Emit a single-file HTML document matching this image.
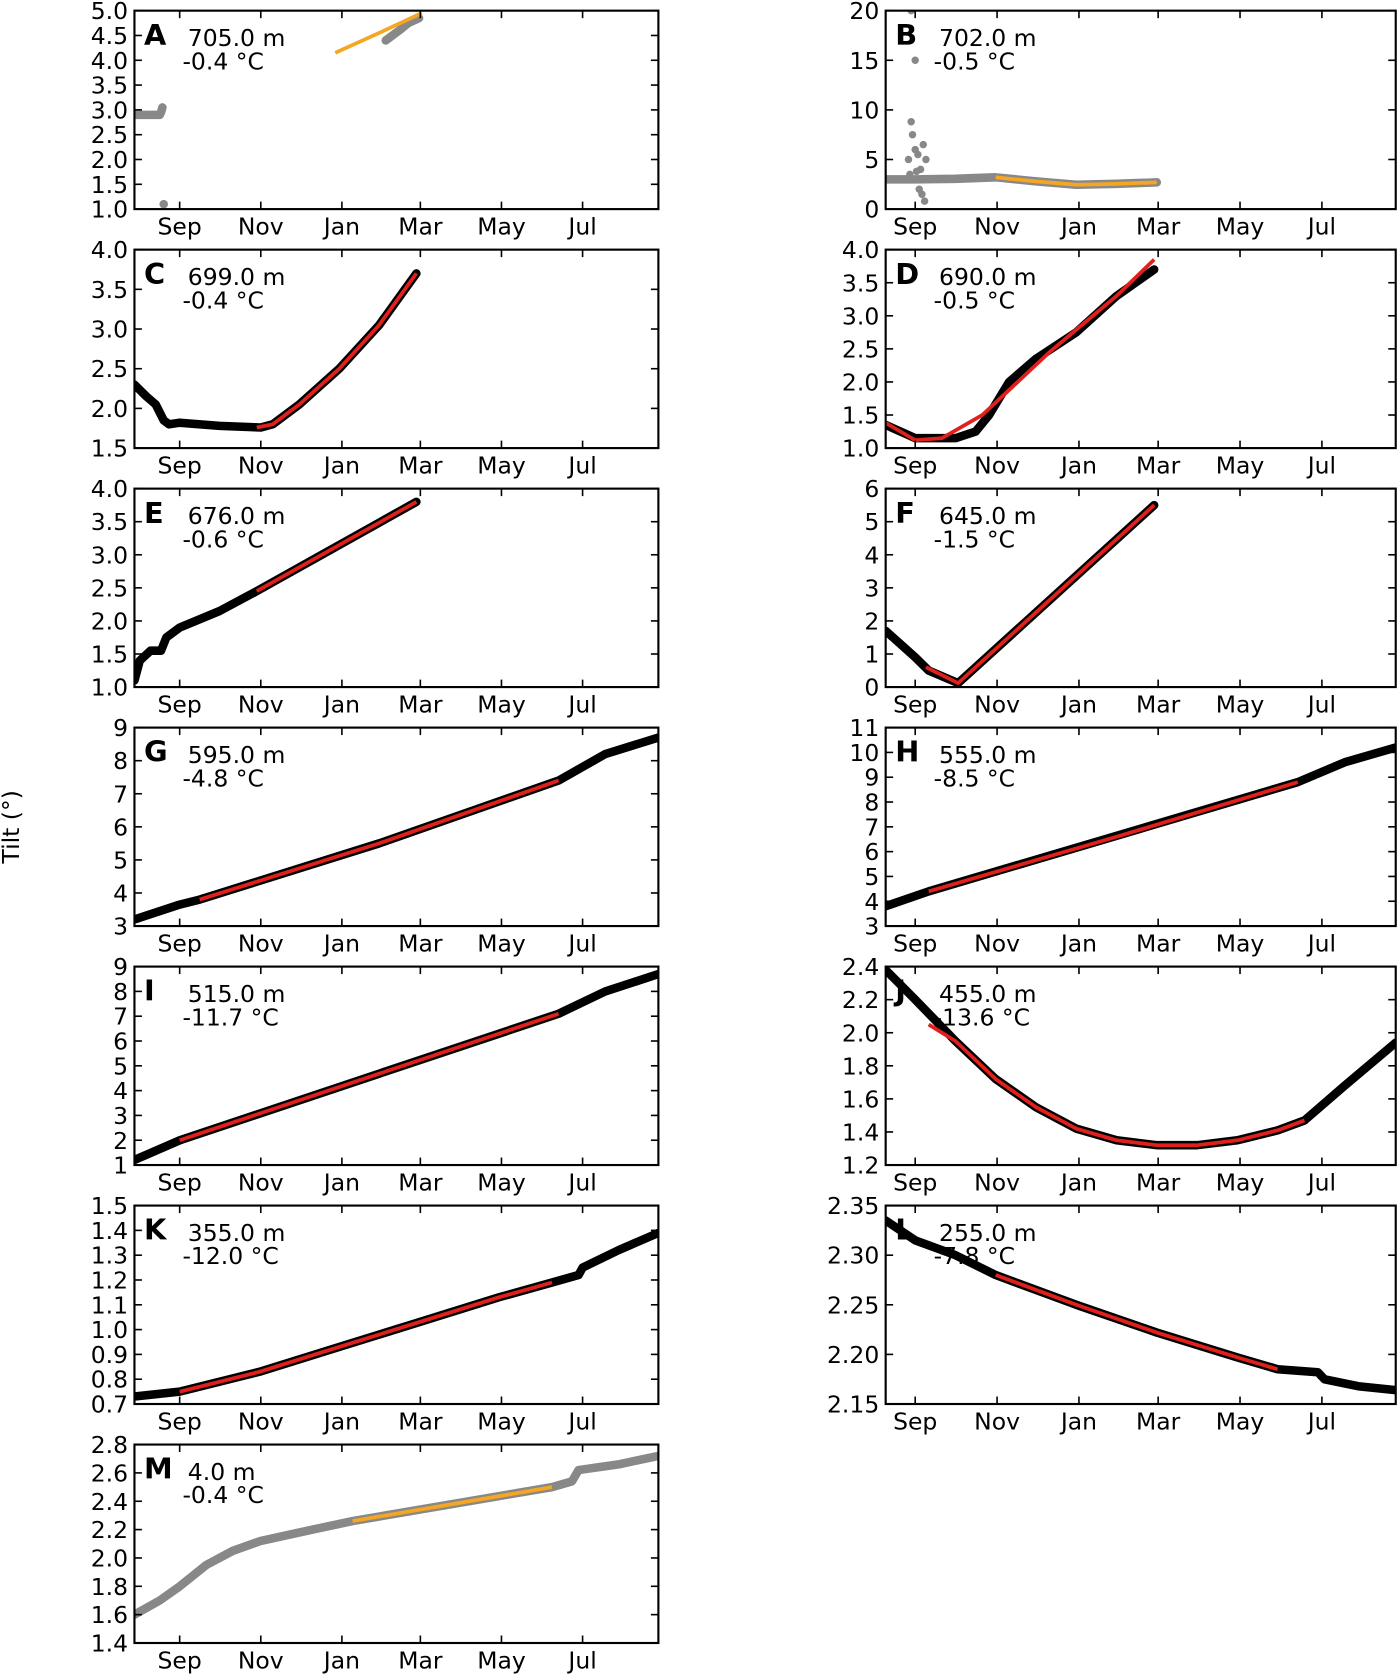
<!DOCTYPE html>
<html><head><meta charset="utf-8"><style>
html,body{margin:0;padding:0;background:#fff;}
svg{display:block;font-family:"DejaVu Sans","Liberation Sans",sans-serif;}
</style></head><body>
<svg id="chart" width="1400" height="1675" viewBox="0 0 1312 1570" preserveAspectRatio="none" xmlns="http://www.w3.org/2000/svg">
<text x="18" y="775" font-size="22" text-anchor="middle" transform="rotate(-90 18 775)">Tilt (°)</text>
</svg>
<script>
const monthLabels=["Sep","Nov","Jan","Mar","May","Jul"];
const monthDays=[0,61,122,181,242,303];
const panelLetters=["A","B","C","D","E","F","G","H","I","J","K","L","M"];
const panelDepths=["705.0 m","702.0 m","699.0 m","690.0 m","676.0 m","645.0 m","595.0 m","555.0 m","515.0 m","455.0 m","355.0 m","255.0 m","4.0 m"];
const panelTemps=["-0.4","-0.5","-0.4","-0.5","-0.6","-1.5","-4.8","-8.5","-11.7","-13.6","-12.0","-7.8","-0.4"];
const yMins=[1,0,1.5,1,1,0,3,3,1,1.2,0.7,2.15,1.4];
const yMaxs=[5,20,4,4,4,6,9,11,9,2.4,1.5,2.35,2.8];
const ySteps=[0.5,5,0.5,0.5,0.5,1,1,1,1,0.2,0.1,0.05,0.2];
const yDecimals=[1,0,1,1,1,0,0,0,0,1,1,2,1];
// data: [day since Sep 1, tilt]
const rawSeries=[
 [[-34,2.9],[-15,2.9],[-14,2.95],[-13,3.05],[155,4.4],[165,4.6],[172,4.75],[180,4.85]],
 [[-22,3],[0,3],[30,3.05],[60,3.2],[90,2.8],[120,2.45],[150,2.55],[180,2.7]],
 [[-34,2.3],[-25,2.15],[-18,2.05],[-12,1.85],[-8,1.8],[0,1.82],[30,1.78],[61,1.76],[70,1.8],[90,2.05],[120,2.5],[150,3.05],[178,3.7]],
 [[-22,1.35],[0,1.15],[30,1.15],[45,1.25],[55,1.5],[70,2.0],[90,2.35],[120,2.75],[150,3.3],[178,3.7]],
 [[-34,1.1],[-30,1.4],[-22,1.55],[-14,1.55],[-10,1.75],[0,1.9],[30,2.15],[58,2.45],[178,3.8]],
 [[-22,1.7],[0,0.9],[10,0.5],[32,0.12],[178,5.5]],
 [[-34,3.2],[0,3.65],[15,3.8],[150,5.5],[285,7.4],[320,8.2],[360,8.7]],
 [[-22,3.8],[10,4.4],[285,8.8],[320,9.6],[358,10.2]],
 [[-34,1.2],[0,2.0],[285,7.1],[320,8.0],[360,8.7]],
 [[-22,2.38],[0,2.2],[30,1.95],[60,1.72],[90,1.55],[120,1.42],[150,1.35],[180,1.32],[210,1.32],[240,1.35],[270,1.41],[290,1.47],[320,1.68],[358,1.94]],
 [[-34,0.73],[0,0.75],[60,0.83],[120,0.93],[180,1.03],[240,1.13],[280,1.19],[300,1.22],[303,1.25],[330,1.32],[360,1.39]],
 [[-22,2.335],[0,2.315],[30,2.3],[60,2.28],[120,2.25],[180,2.222],[240,2.197],[270,2.185],[300,2.182],[305,2.175],[330,2.168],[358,2.164]],
 [[-34,1.6],[-15,1.7],[0,1.8],[20,1.95],[40,2.05],[61,2.12],[100,2.2],[130,2.26],[280,2.5],[295,2.54],[300,2.62],[330,2.66],[360,2.72]]
];
const fitSeries=[
 [[117,4.15],[150,4.55],[170,4.8],[182,4.95]],
 [[60,3.2],[90,2.8],[120,2.45],[150,2.55],[180,2.7]],
 [[58,1.76],[70,1.8],[90,2.05],[120,2.5],[150,3.05],[178,3.7]],
 [[-22,1.38],[0,1.12],[20,1.15],[50,1.5],[100,2.45],[150,3.3],[178,3.85]],
 [[58,2.45],[178,3.8]],
 [[8,0.6],[32,0.12],[178,5.5]],
 [[15,3.8],[150,5.5],[285,7.4]],
 [[10,4.4],[150,6.6],[285,8.8]],
 [[0,2.0],[285,7.1]],
 [[10,2.05],[30,1.95],[60,1.72],[90,1.55],[120,1.42],[150,1.35],[180,1.32],[210,1.32],[240,1.35],[270,1.41],[290,1.47]],
 [[0,0.75],[60,0.83],[120,0.93],[180,1.03],[240,1.13],[280,1.19]],
 [[60,2.28],[120,2.25],[180,2.222],[240,2.197],[270,2.185]],
 [[130,2.26],[280,2.5]]
];
const scatterB=[[-5,5],[-3,8.8],[-2,7.5],[0,6],[2,5.5],[4,4],[6,6.5],[8,5],[-4,3.5],[1,3.8],[5,1.5],[7,0.8],[0,15],[-3,20],[3,2]];
const outlierA=[[-12,1.1]];
const grayPanels=[0,1,12];

const svg=document.getElementById('chart');
const NS='http://www.w3.org/2000/svg';
function mk(tag,attrs,parent){const e=document.createElementNS(NS,tag);for(const k in attrs)e.setAttribute(k,attrs[k]);(parent||svg).appendChild(e);return e;}
const rowTops=[10,234,458,682,906,1130,1354];
const rowH=186;
const cols=[{x0:126,x1:617,d0:-34,d1:360},{x0:830,x1:1308,d0:-22,d1:358}];
for(let p=0;p<13;p++){
  const col=cols[p%2], top=rowTops[Math.floor(p/2)], bot=top+rowH;
  const g=mk('g',{});
  
  
  const xs=d=>col.x0+(d-col.d0)/(col.d1-col.d0)*(col.x1-col.x0);
  const ys=v=>bot-(v-yMins[p])/(yMaxs[p]-yMins[p])*rowH;
  const clipId='clip'+p;
  const cp=mk('clipPath',{id:clipId},g);mk('rect',{x:col.x0,y:top,width:col.x1-col.x0,height:rowH},cp);
  const isGray=grayPanels.includes(p);
  const dataColor=isGray?'#888':'#000';
  const fitColor=isGray?'#f5a623':'#e0201b';
  const path=arr=>arr.map((q,i)=>(i?'L':'M')+xs(q[0]).toFixed(1)+' '+ys(q[1]).toFixed(1)).join(' ');
  let s=rawSeries[p];
  let segs=(p===0)?[s.slice(0,4),s.slice(4)]:[s];
  segs.forEach(seg=>{const l=mk('path',{d:path(seg),fill:'none',stroke:dataColor,'stroke-width':8,'stroke-linejoin':'round','stroke-linecap':'round','clip-path':'url(#'+clipId+')'},g);
    });
  if(p===1){scatterB.forEach(q=>{const c=mk('circle',{cx:xs(q[0]),cy:ys(q[1]),r:3.5,fill:'#888','clip-path':'url(#'+clipId+')'},g);});}
  if(p===0){outlierA.forEach(q=>{const c=mk('circle',{cx:xs(q[0]),cy:ys(q[1]),r:4,fill:'#888'},g);});}
  const f=mk('path',{d:path(fitSeries[p]),fill:'none',stroke:fitColor,'stroke-width':3.5,'stroke-linejoin':'round','clip-path':'url(#'+clipId+')'},g);
  
  const fr=mk('rect',{x:col.x0,y:top,width:col.x1-col.x0,height:rowH,fill:'none',stroke:'#000','stroke-width':2},g);
  
  monthDays.forEach((d,i)=>{const x=xs(d);
    mk('line',{x1:x,y1:bot,x2:x,y2:bot-7,stroke:'#000','stroke-width':1.5},g);
    mk('line',{x1:x,y1:top,x2:x,y2:top+7,stroke:'#000','stroke-width':1.5},g);
    const t=mk('text',{x:x,y:bot+24,'font-size':22,'text-anchor':'middle'},g);t.textContent=monthLabels[i];
    });
  const n=Math.round((yMaxs[p]-yMins[p])/ySteps[p]);
  for(let i=0;i<=n;i++){const v=yMins[p]+i*ySteps[p];const y=ys(v);
    mk('line',{x1:col.x0,y1:y,x2:col.x0+7,y2:y,stroke:'#000','stroke-width':1.5},g);
    mk('line',{x1:col.x1,y1:y,x2:col.x1-7,y2:y,stroke:'#000','stroke-width':1.5},g);
    const t=mk('text',{x:col.x0-6,y:y+8,'font-size':22,'text-anchor':'end'},g);t.textContent=v.toFixed(yDecimals[p]);
    }
  const L=mk('text',{x:col.x0+9,y:top+32,'font-size':27,'font-weight':'bold'},g);L.textContent=panelLetters[p];
  
  const D=mk('text',{x:col.x0+50,y:top+33,'font-size':22},g);D.textContent=panelDepths[p];
  
  const T=mk('text',{x:col.x0+45,y:top+55,'font-size':22},g);T.textContent=panelTemps[p]+' °C';
  
}
</script>
</body></html>
